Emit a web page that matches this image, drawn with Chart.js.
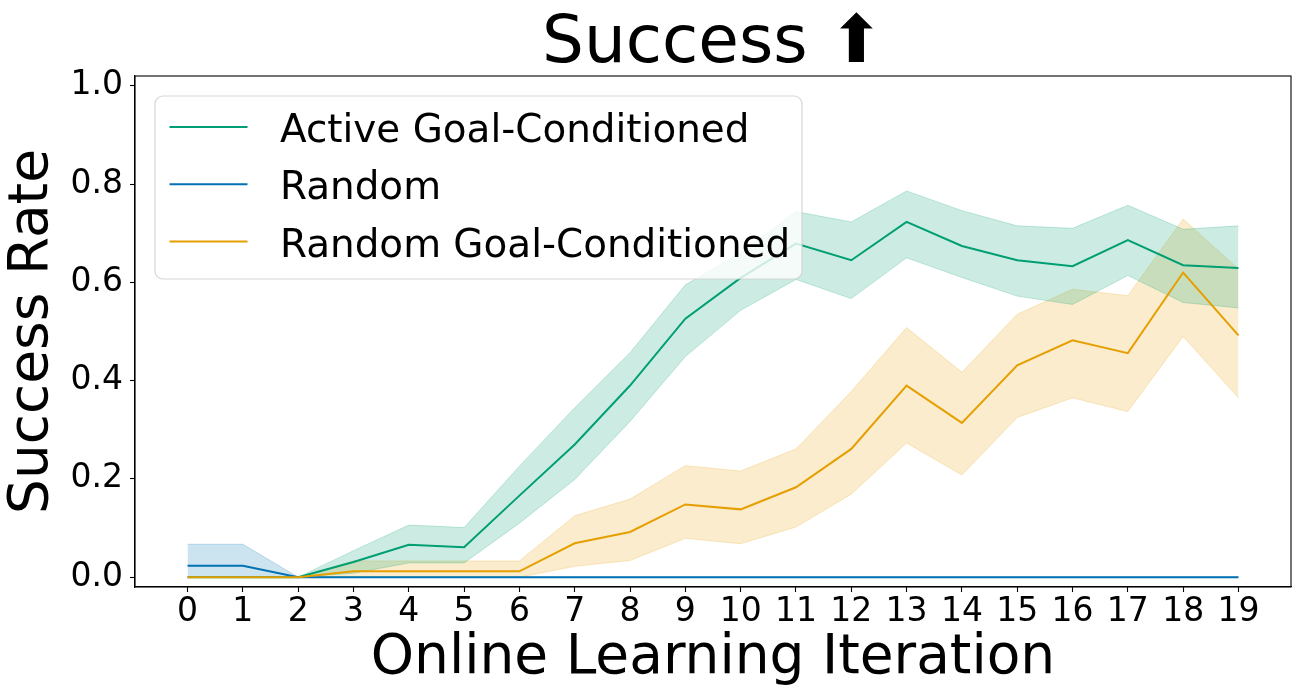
<!DOCTYPE html>
<html>
<head>
<meta charset="utf-8">
<script src="https://cdn.jsdelivr.net/npm/chart.js@4.4.1/dist/chart.umd.min.js"></script>
<style>
    html, body { margin: 0; padding: 0; background: #ffffff; }
    #wrap { width: 1300px; height: 700px; }
</style>
</head>
<body>
<div id="wrap"><canvas id="chart-success" width="1300" height="700"></canvas></div>
<script>
// Valores
const iterations = [0, 1, 2, 3, 4, 5, 6, 7, 8, 9, 10, 11, 12, 13, 14, 15, 16, 17, 18, 19];
const yTicks = [0.0, 0.2, 0.4, 0.6, 0.8, 1.0];

const activeMean  = [0, 0, 0, 0.031, 0.066, 0.061, 0.166, 0.270, 0.390, 0.526, 0.609, 0.679, 0.645, 0.723, 0.674, 0.645, 0.633, 0.686, 0.635, 0.629];
const activeUpper = [0, 0, 0, 0.054, 0.106, 0.101, 0.226, 0.345, 0.457, 0.595, 0.660, 0.744, 0.723, 0.786, 0.746, 0.715, 0.710, 0.757, 0.708, 0.715];
const activeLower = [0, 0, 0, 0.008, 0.029, 0.029, 0.110, 0.199, 0.317, 0.449, 0.543, 0.606, 0.567, 0.650, 0.610, 0.572, 0.555, 0.614, 0.559, 0.548];

const randomMean  = [0.023, 0.023, 0, 0, 0, 0, 0, 0, 0, 0, 0, 0, 0, 0, 0, 0, 0, 0, 0, 0];
const randomUpper = [0.067, 0.067, 0, 0, 0, 0, 0, 0, 0, 0, 0, 0, 0, 0, 0, 0, 0, 0, 0, 0];
const randomLower = [0, 0, 0, 0, 0, 0, 0, 0, 0, 0, 0, 0, 0, 0, 0, 0, 0, 0, 0, 0];

const rgcMean  = [0, 0, 0, 0.012, 0.012, 0.012, 0.012, 0.069, 0.092, 0.148, 0.138, 0.183, 0.261, 0.390, 0.314, 0.431, 0.482, 0.456, 0.620, 0.492];
const rgcUpper = [0, 0, 0, 0.033, 0.033, 0.033, 0.033, 0.125, 0.159, 0.227, 0.216, 0.261, 0.378, 0.508, 0.417, 0.535, 0.586, 0.573, 0.729, 0.627];
const rgcLower = [0, 0, 0, 0, 0, 0, 0, 0.022, 0.034, 0.079, 0.068, 0.102, 0.169, 0.273, 0.208, 0.325, 0.365, 0.337, 0.490, 0.365];

const seriesNames = ['Active Goal-Conditioned', 'Random', 'Random Goal-Conditioned'];
const seriesColors = ['0, 158, 115', '0, 114, 178', '230, 159, 0'];
const chartTitle = 'Success \u2B06';

const FONT = "'DejaVu Sans', sans-serif";

function points(values) {
    return iterations.map((x, i) => ({ x: x, y: values[i] }));
}

// Banda (inferior + superior rellena hasta la inferior) y linea media
function buildSeries(idx, mean, upper, lower, baseIndex) {
    const rgb = seriesColors[idx];
    return [
        {
            label: seriesNames[idx] + ' lower',
            data: points(lower),
            borderColor: `rgba(${rgb}, 0.22)`,
            borderWidth: 1,
            pointRadius: 0,
            fill: false,
            order: 20 + idx * 2
        },
        {
            label: seriesNames[idx] + ' upper',
            data: points(upper),
            borderColor: `rgba(${rgb}, 0.22)`,
            borderWidth: 1,
            pointRadius: 0,
            backgroundColor: `rgba(${rgb}, 0.2)`,
            fill: { target: baseIndex },
            order: 19 + idx * 2
        },
        {
            label: seriesNames[idx],
            data: points(mean),
            borderColor: `rgb(${rgb})`,
            borderWidth: 2,
            pointRadius: 0,
            fill: false,
            isMain: true,
            order: 10 - idx
        }
    ];
}

const datasets = [].concat(
    buildSeries(0, activeMean, activeUpper, activeLower, 0),
    buildSeries(1, randomMean, randomUpper, randomLower, 3),
    buildSeries(2, rgcMean, rgcUpper, rgcLower, 6)
);

// Marco completo alrededor del area de datos
const framePlugin = {
    id: 'frame',
    afterDatasetsDraw(chart) {
        const { ctx, chartArea: a } = chart;
        ctx.save();
        ctx.strokeStyle = '#000000';
        ctx.lineWidth = 1.1;
        ctx.strokeRect(a.left, a.top, a.right - a.left, a.bottom - a.top);
        ctx.restore();
    }
};

// Titulo centrado sobre el area de datos (no sobre todo el lienzo)
const axesTitlePlugin = {
    id: 'axesTitle',
    afterDraw(chart) {
        const { ctx, chartArea: a } = chart;
        ctx.save();
        ctx.font = `66px ${FONT}`;
        ctx.fillStyle = '#000000';
        ctx.textAlign = 'center';
        ctx.textBaseline = 'alphabetic';
        ctx.fillText(chartTitle, (a.left + a.right) / 2, 62);
        ctx.restore();
    }
};

// Leyenda dentro del grafico, arriba a la izquierda
const insideLegendPlugin = {
    id: 'insideLegend',
    afterDraw(chart) {
        const { ctx } = chart;
        const mains = chart.data.datasets.filter(d => d.isMain);
        const x0 = 155, y0 = 96, w = 647, h = 183, r = 8;
        ctx.save();
        ctx.beginPath();
        ctx.roundRect(x0, y0, w, h, r);
        ctx.fillStyle = 'rgba(255, 255, 255, 0.8)';
        ctx.fill();
        ctx.strokeStyle = 'rgba(204, 204, 204, 0.8)';
        ctx.lineWidth = 1.2;
        ctx.stroke();

        ctx.font = `38.9px ${FONT}`;
        ctx.textBaseline = 'alphabetic';
        ctx.fillStyle = '#000000';
        mains.forEach((d, i) => {
            const y = 127 + i * 57.3;
            ctx.beginPath();
            ctx.strokeStyle = d.borderColor;
            ctx.lineWidth = 2;
            ctx.moveTo(169.5, y);
            ctx.lineTo(247.5, y);
            ctx.stroke();
            ctx.fillText(d.label, 280, y + 15);
        });
        ctx.restore();
    }
};

new Chart(document.getElementById('chart-success'), {
    type: 'line',
    data: { datasets: datasets },
    options: {
        responsive: false,
        animation: false,
        layout: { padding: { left: 0, right: 9, top: 76, bottom: 0 } },
        plugins: {
            legend: { display: false },
            tooltip: { enabled: false },
            title: { display: false }
        },
        scales: {
            x: {
                type: 'linear',
                min: -0.95,
                max: 19.95,
                afterFit: (scale) => { scale.height = 113; },
                afterBuildTicks: (scale) => { scale.ticks = iterations.map(v => ({ value: v })); },
                ticks: {
                    color: '#000000',
                    font: { family: FONT, size: 33 },
                    padding: 1,
                    maxRotation: 0,
                    autoSkip: false,
                    callback: (v) => String(v)
                },
                grid: { drawOnChartArea: false, drawTicks: true, tickLength: 5, color: '#000000', tickWidth: 1.1 },
                border: { display: true, color: '#000000', width: 1.1 },
                title: {
                    display: true,
                    text: 'Online Learning Iteration',
                    color: '#000000',
                    font: { family: FONT, size: 55, lineHeight: 1 },
                    padding: { top: 0, bottom: 14 }
                }
            },
            y: {
                min: -0.02,
                max: 1.02,
                afterFit: (scale) => { scale.width = 135; },
                afterBuildTicks: (scale) => { scale.ticks = yTicks.map(v => ({ value: v })); },
                ticks: {
                    color: '#000000',
                    font: { family: FONT, size: 33 },
                    padding: 7,
                    callback: (v) => v.toFixed(1)
                },
                grid: { drawOnChartArea: false, drawTicks: true, tickLength: 5, color: '#000000', tickWidth: 1.1 },
                border: { display: true, color: '#000000', width: 1.1 },
                title: {
                    display: true,
                    text: 'Success Rate',
                    color: '#000000',
                    font: { family: FONT, size: 55, lineHeight: 1 },
                    padding: { top: 5, bottom: 0 }
                }
            }
        }
    },
    plugins: [framePlugin, axesTitlePlugin, insideLegendPlugin]
});
</script>
</body>
</html>
